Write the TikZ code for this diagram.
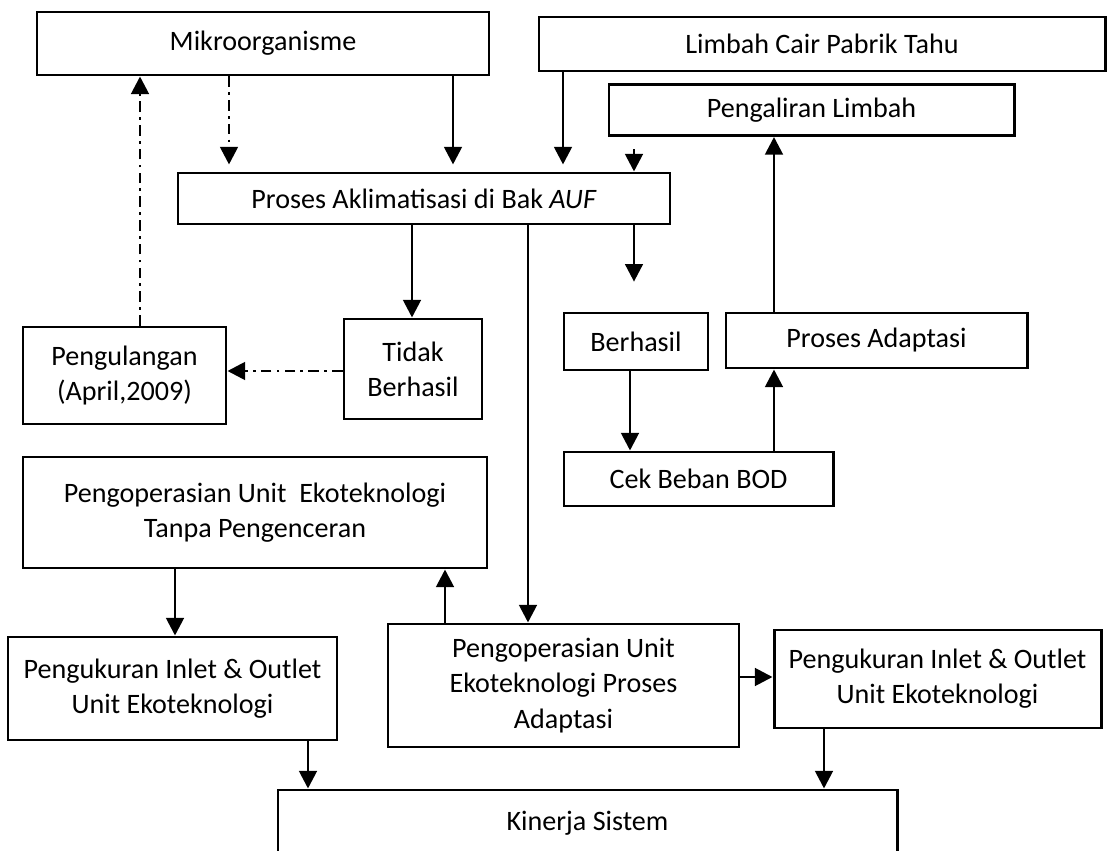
\documentclass[tikz,border=0pt]{standalone}
\usepackage{fontspec}
\setmainfont{Carlito}
\usetikzlibrary{arrows.meta}

\begin{document}
\begin{tikzpicture}[x=0.02cm, y=-0.02cm, >={Triangle[width=10pt,length=10pt]},
  every node/.style={font=\fontsize{16}{20}\selectfont},
  box/.style={draw, line width=1.7pt, align=center, inner sep=2pt},
  wh/.style 2 args={minimum width=#1*0.02cm, minimum height=#2*0.02cm},
  flow/.style={->, line width=1.6pt},
  dashdot/.style={->, line width=1.6pt, dash pattern=on 6pt off 3pt on 1.5pt off 3pt}]

  \useasboundingbox (0,0) rectangle (1113,851);

  % Top row: sources
  \node[box, wh={452}{63}] (mikro) at (263,43.5) {Mikroorganisme};
  \node[box, wh={566}{54}] (limbah) at (822,44) {Limbah Cair Pabrik Tahu};
  \node[box, wh={405}{51}] (alir) at (811.5,110) {Pengaliran Limbah};

  % Acclimatisation
  \node[box, wh={492}{51}] (aklim) at (424,198.5) {Proses Aklimatisasi di Bak \textit{AUF}};
  \node[box, wh={138}{100}] (tidak) at (413,369) {Tidak\\Berhasil};
  \node[box, wh={203}{97}] (ulang) at (124.5,375.5) {Pengulangan\\(April,2009)};
  \node[box, wh={144}{57}] (berhasil) at (636,341.5) {Berhasil};
  \node[box, wh={301}{55}] (adaptasi) at (876.5,340.5) {Proses Adaptasi};
  \node[box, wh={269}{54}] (cekbod) at (698.5,479) {Cek Beban BOD};

  % Operation and measurement
  \node[box, wh={464}{111}] (tanpa) at (255,512.5) {Pengoperasian Unit\ \ Ekoteknologi\\Tanpa Pengenceran};
  \node[box, wh={329}{103}] (ukurkiri) at (172.5,688.5) {Pengukuran Inlet \& Outlet\\Unit Ekoteknologi};
  \node[box, wh={351}{123}] (opadapt) at (563.5,685.5) {Pengoperasian Unit\\Ekoteknologi Proses\\Adaptasi};
  \node[box, wh={327}{98}] (ukurkanan) at (937.5,679) {Pengukuran Inlet \& Outlet\\Unit Ekoteknologi};
  \node[box, wh={619}{66}] (kinerja) at (587.5,823) {Kinerja Sistem};

  % Into the AUF tank
  \draw[dashdot, shorten >=4pt] (mikro.south -| 229,0) -- (aklim.north -| 229,0);
  \draw[flow, shorten >=4pt] (mikro.south -| 453,0) -- (aklim.north -| 453,0);
  \draw[flow, shorten >=4pt] (limbah.south -| 563,0) -- (aklim.north -| 563,0);
  \draw[flow, shorten <=7pt] (alir.south -| 634,0) -- (aklim.north -| 634,0);

  % Out of the AUF tank
  \draw[flow] (aklim.south -| 412,0) -- (tidak.north -| 412,0);
  \draw[flow] (aklim.south -| 528,0) -- (opadapt.north -| 528,0);
  \draw[flow, shorten >=17pt] (aklim.south -| 634,0) -- (berhasil.north -| 634,0);
  \draw[dashdot] (tidak.west |- 0,371) -- (ulang.east |- 0,371);
  \draw[dashdot] (ulang.north -| 140,0) -- (mikro.south -| 140,0);

  % Adaptation loop
  \draw[flow] (berhasil.south -| 630,0) -- (cekbod.north -| 630,0);
  \draw[flow] (cekbod.north -| 774,0) -- (adaptasi.south -| 774,0);
  \draw[flow] (adaptasi.north -| 774,0) -- (alir.south -| 774,0);

  % Bottom part
  \draw[flow] (tanpa.south -| 175,0) -- (ukurkiri.north -| 175,0);
  \draw[flow] (opadapt.north -| 445,0) -- (tanpa.south -| 445,0);
  \draw[flow] (opadapt.east |- 0,677) -- (ukurkanan.west |- 0,677);
  \draw[flow] (ukurkiri.south -| 308,0) -- (kinerja.north -| 308,0);
  \draw[flow] (ukurkanan.south -| 824,0) -- (kinerja.north -| 824,0);
\end{tikzpicture}
\end{document}
